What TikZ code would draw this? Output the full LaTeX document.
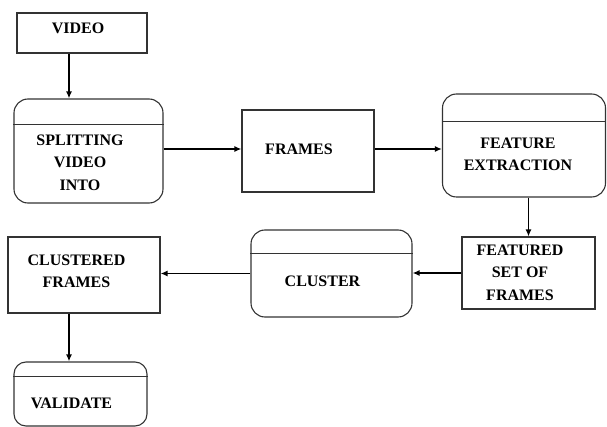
\documentclass[tikz,border=0pt]{standalone}
\usepackage{fontspec}
\setmainfont{Liberation Serif}
\usetikzlibrary{arrows.meta, positioning}

\tikzset{
  box/.style={draw=black!80, line width=1.1pt, inner sep=0pt},
  rbox/.style={box, rounded corners=14pt},
  txt/.style={font=\bfseries\fontsize{16}{22.5}\selectfont, align=center, inner sep=0pt},
  arr/.style={-{Latex[length=7pt,width=6pt]}, line width=1.4pt},
  hdr/.style={draw=black!80, line width=1.1pt}
}

\begin{document}
\begin{tikzpicture}[x=1pt, y=-1pt]
\useasboundingbox (0,0) rectangle (607,427);

% Boxes
\node[box, minimum width=130pt, minimum height=40pt] (video) at (82,33) {};
\node[rbox, minimum width=149pt, minimum height=104pt] (split) at (88.5,151) {};
\node[box, minimum width=132pt, minimum height=82pt] (frames) at (308,151) {};
\node[rbox, minimum width=163pt, minimum height=103pt] (feat) at (524,145.5) {};
\node[box, minimum width=133pt, minimum height=72pt] (fset) at (528.5,273) {};
\node[rbox, minimum width=161pt, minimum height=87pt] (clus) at (331.5,273.5) {};
\node[box, minimum width=152pt, minimum height=76pt] (cfr) at (84,275) {};
\node[rbox, rounded corners=12pt, minimum width=133pt, minimum height=64pt] (val) at (80.5,394) {};

% Header lines
\draw[hdr] ([yshift=-26pt]split.north west) -- ([yshift=-26pt]split.north east);
\draw[hdr] ([yshift=-28pt]feat.north west) -- ([yshift=-28pt]feat.north east);
\draw[hdr] ([yshift=-24pt]clus.north west) -- ([yshift=-24pt]clus.north east);
\draw[hdr] ([yshift=-15pt]val.north west) -- ([yshift=-15pt]val.north east);

% Texts
\node[txt] (videoT) at (78,28) {VIDEO};
\node[txt] (splitT) at (80,162.5) {SPLITTING\\VIDEO\\INTO};
\node[txt] (framesT) at (299,149) {FRAMES};
\node[txt] (featT) at (518,154.5) {FEATURE\\EXTRACTION};
\node[txt] (fsetT) at (520,272.5) {FEATURED\\SET OF\\FRAMES};
\node[txt] (clusT) at (322.5,281) {CLUSTER};
\node[txt] (cfrT) at (76.5,271.5) {CLUSTERED\\FRAMES};
\node[txt] (valT) at (71.5,403) {VALIDATE};

% Arrows
\draw[arr] ([xshift=-13pt]video.south) -- ([xshift=-13pt]video.south |- split.north);
\draw[arr] ([yshift=2pt]split.east) -- ([yshift=2pt]split.east -| frames.west);
\draw[arr] ([yshift=2pt]frames.east) -- ([yshift=2pt]frames.east -| feat.west);
\draw[arr] (fset.north |- feat.south) -- (fset.north);
\draw[arr] (fset.west) -- (fset.west -| clus.east);
\draw[arr] (clus.west) -- (clus.west -| cfr.east);
\draw[arr] ([xshift=-15pt]cfr.south) -- ([xshift=-15pt]cfr.south |- val.north);
\end{tikzpicture}
\end{document}
